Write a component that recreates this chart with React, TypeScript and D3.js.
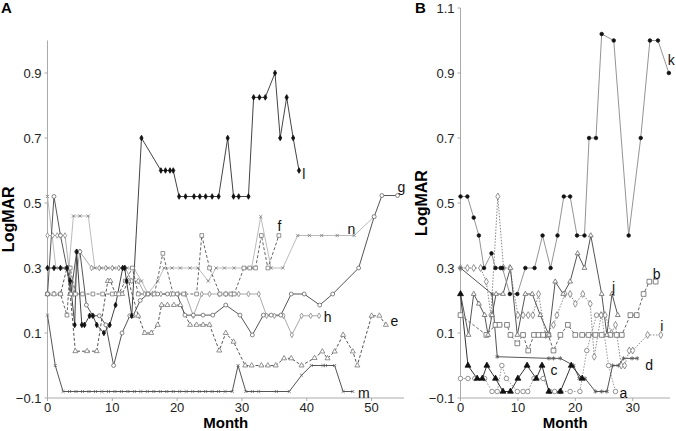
import React from "react";
import * as d3 from "d3";

type P = [number, number];

// ---------- Panel A data (month, LogMAR) ----------
const aL: P[] = [[0,0.3],[1,0.3],[2,0.3],[3,0.3],[3.5,0.26],[4.2,0.125],[4.5,0.35],[5.3,0.125],[5.7,0.125],[6.5,0.153],[7,0.153],[7.6,0.125],[8.7,0.1],[9.6,0.125],[10.5,0.186],[11.6,0.3],[11.9,0.3],[12.2,0.26],[13,0.153],[14.5,0.7],[17.5,0.6],[18.2,0.6],[18.9,0.6],[19.4,0.6],[20.3,0.52],[21.3,0.52],[22.6,0.52],[23.5,0.52],[24.4,0.52],[25.4,0.52],[26.4,0.52],[27.8,0.7],[28.7,0.52],[29.5,0.52],[31,0.52],[31.8,0.825],[32.7,0.825],[33.6,0.825],[35.1,0.9],[35.9,0.7],[36.9,0.825],[37.9,0.7],[38.8,0.6]];
const aG: P[] = [[0,0.22],[1,0.52],[2,0.4],[3,0.3],[3.6,0.22],[4.5,0.35],[5,0.35],[6,0.186],[7,0.153],[8,0.153],[9,0.125],[10.2,0.0],[11.5,0.1],[12.7,0.153],[13.2,0.153],[14.3,0.2],[15.5,0.22],[17,0.22],[18.5,0.22],[20,0.22],[21.2,0.155],[22.5,0.155],[24,0.155],[25.5,0.155],[27.5,0.186],[29.7,0.155],[31.6,0.094],[33.3,0.155],[34.5,0.155],[36,0.155],[37.6,0.22],[39.6,0.22],[42,0.186],[44,0.22],[48,0.3],[50.4,0.458],[51.6,0.523],[54,0.523]];
const aF: P[] = [[0,0.22],[1,0.22],[2,0.22],[3,0.155],[3.5,0.3],[4.3,0.22],[5.4,0.22],[7,0.22],[8.5,0.22],[10,0.22],[11,0.22],[12,0.26],[13.1,0.3],[14,0.22],[15.5,0.22],[16.5,0.22],[17.8,0.345],[19.4,0.22],[21,0.22],[23,0.22],[23.8,0.4],[25,0.3],[26.6,0.22],[27.5,0.22],[28.3,0.22],[28.8,0.22],[30.3,0.3],[31.2,0.3],[32.1,0.3],[33,0.4],[34,0.3],[35.7,0.4]];
const aN: P[] = [[0,0.52],[1.3,0.3],[2.5,0.3],[3.3,0.3],[4,0.46],[5,0.46],[6.3,0.46],[7.3,0.3],[8.3,0.3],[9.3,0.3],[10.3,0.3],[11.3,0.3],[12.3,0.3],[13.3,0.3],[14.5,0.26],[15.5,0.22],[17,0.26],[18,0.3],[19.2,0.3],[20.5,0.3],[22,0.3],[23.2,0.3],[24.8,0.26],[26,0.3],[27.3,0.3],[28.8,0.3],[30.4,0.3],[31.5,0.3],[32.9,0.458],[34.5,0.3],[36.3,0.3],[38.6,0.4],[40.4,0.4],[42.3,0.4],[44.7,0.4],[47.3,0.4],[50.4,0.458]];
const aH: P[] = [[0,0.4],[0.8,0.4],[1.5,0.4],[2,0.4],[2.7,0.4],[3.3,0.3],[4,0.22],[5,0.35],[6.8,0.3],[8,0.3],[9,0.3],[10,0.3],[11,0.3],[12,0.3],[13,0.26],[14,0.26],[15,0.22],[16.2,0.22],[17.5,0.22],[19,0.22],[20.2,0.22],[21.3,0.22],[22.5,0.153],[23.8,0.22],[25,0.22],[26.5,0.22],[27.5,0.22],[28.5,0.22],[29.5,0.22],[31,0.22],[32.6,0.22],[33.8,0.153],[35,0.153],[36.4,0.153],[37.7,0.094],[39.2,0.153],[40.6,0.153],[41.9,0.153]];
const aE: P[] = [[0,0.22],[1,0.22],[2,0.22],[3,0.3],[3.5,0.22],[4.3,0.044],[6.1,0.044],[7.6,0.044],[9.3,0.26],[9.7,0.26],[10.5,0.22],[11.5,0.22],[12.5,0.26],[14,0.153],[15,0.1],[16,0.1],[17,0.125],[17.6,0.186],[18.5,0.186],[19.5,0.186],[20.5,0.186],[22,0.125],[23,0.125],[24,0.125],[25,0.125],[26.5,0.046],[27.5,0.1],[28.7,0.073],[30.5,0.0],[31.5,0.0],[33,0.0],[34,0.0],[35.2,0.0],[36.5,0.022],[37.6,0.022],[39.2,0.0],[41.2,0.023],[42.4,0.043],[43.2,0.022],[44.3,0.043],[45.6,0.094],[47.1,0.043],[47.8,0.0],[50,0.153],[51.2,0.153],[52.2,0.125]];
const aM: P[] = [[0,0.155],[1.2,0.0],[2.4,-0.08],[3.4,-0.08],[4.4,-0.08],[5.4,-0.08],[6.4,-0.08],[7.4,-0.08],[8.4,-0.08],[9.4,-0.08],[10.4,-0.08],[11.4,-0.08],[12.4,-0.08],[13.4,-0.08],[14.4,-0.08],[15.4,-0.08],[16.4,-0.08],[17.4,-0.08],[18.4,-0.08],[19.4,-0.08],[20.4,-0.08],[21.4,-0.08],[22.4,-0.08],[23.4,-0.08],[24.4,-0.08],[25.4,-0.08],[26.4,-0.08],[27.4,-0.08],[28.5,-0.08],[29.4,0.0],[30.6,-0.08],[31.6,-0.08],[32.6,-0.08],[35.3,-0.08],[37.3,-0.08],[39.2,-0.03],[40.7,0.0],[42.5,0.0],[42.9,0.0],[44.3,0.0],[45.6,-0.08],[47.1,-0.08]];

// ---------- Panel B data ----------
const bK: P[] = [[0,0.52],[1.2,0.52],[2.3,0.455],[3.2,0.4],[4.1,0.3],[5.4,0.345],[6.1,0.3],[7,0.3],[7.3,0.3],[8.6,0.22],[9.9,0.22],[11.3,0.3],[12.9,0.3],[14.3,0.4],[15.7,0.3],[16.9,0.4],[18,0.52],[19.1,0.52],[20.3,0.4],[21.6,0.4],[22.4,0.7],[23.6,0.7],[24.6,1.02],[26.7,1.0],[29.3,0.4],[31.4,0.7],[33,1.0],[34.4,1.0],[36.3,0.9]];
const bB: P[] = [[0,0.155],[4.5,0.094],[6.1,0.125],[6.8,0.125],[8.1,0.125],[8.7,0.094],[9.9,0.068],[10.9,0.094],[11.8,0.046],[12.8,0.094],[13.6,0.094],[14.4,0.094],[15.3,0.094],[16.2,0.046],[17.4,0.094],[18.7,0.125],[20,0.094],[21.2,0.094],[22.3,0.094],[23.5,0.094],[24.6,0.094],[26.1,0.094],[27.2,0.094],[28.1,0.094],[29.6,0.155],[30.7,0.155],[31.9,0.22],[32.9,0.258],[34,0.258]];
const bI: P[] = [[0,0.3],[1.2,0.3],[2.3,0.3],[3.5,0.3],[4.5,0.258],[5.3,0.155],[6.5,0.52],[7.5,0.3],[8.6,0.3],[10,0.155],[10.9,0.155],[11.8,0.155],[12.6,0.155],[13.6,0.22],[14.8,0.094],[16.2,0.125],[16.8,0.155],[18.2,0.22],[19.1,0.22],[20,0.19],[21.3,0.22],[22.6,0.19],[23.3,0.027],[24.5,0.155],[25.2,0.155],[26.3,0.1],[27,0.125],[28,0.0],[28.6,0.0],[29.4,0.046],[30,0.046],[32.6,0.094],[34.9,0.094]];
const bJ: P[] = [[0,0.22],[1.4,0.094],[2.3,0.22],[3.2,0.19],[4.2,0.155],[4.8,0.094],[5.5,0.155],[6.2,0.22],[7.4,0.22],[8.7,0.3],[9.9,0.094],[11.3,0.22],[12.5,0.22],[13.9,0.155],[15.4,0.094],[16.5,0.258],[17.9,0.22],[19.1,0.258],[20.4,0.345],[21.6,0.3],[22.7,0.4],[24.6,0.22],[25.5,0.094],[26.4,0.22],[27.4,0.155]];
const bD: P[] = [[0,0.3],[5.5,0.22],[6.4,0.027],[15.4,0.022],[16.2,0.022],[17.4,0.022],[19.7,0.0],[20.7,-0.04],[21.7,-0.04],[23.5,-0.08],[24.6,-0.08],[25.5,-0.08],[26.5,0.0],[27.5,0.0],[28.4,0.022],[29.9,0.022],[30.8,0.022]];
const bC: P[] = [[0,0.22],[1.3,0.0],[2.9,-0.04],[3.8,-0.04],[4.6,0.0],[6.1,-0.04],[7.4,-0.08],[8.7,-0.08],[10,-0.04],[11.6,0.0],[13.2,-0.04],[14.2,0.0],[15.4,-0.08],[17.4,-0.08],[19.3,0.0],[21.2,-0.04]];
const bA: P[] = [[0,-0.04],[1.3,-0.04],[2.5,-0.04],[4.2,-0.04],[5.5,-0.08],[6.4,-0.08],[7.2,0.0],[8,-0.04],[9.9,-0.08],[10.9,-0.08],[11.7,-0.08],[12.8,-0.04],[14.4,-0.04],[15.6,-0.08],[16.4,-0.08],[17.4,-0.08],[19.1,-0.08],[20.8,-0.08],[22,0.046],[23.7,0.155],[24.6,0.155],[25.8,0.0],[27,-0.08]];

// ---------- axes ----------
const yTicksA = [-0.1, 0.1, 0.3, 0.5, 0.7, 0.9];
const yTicksB = [-0.1, 0.1, 0.3, 0.5, 0.7, 0.9, 1.1];
const xTicksA = [0, 10, 20, 30, 40, 50];
const xTicksB = [0, 10, 20, 30];

type Style = {
  data: P[];
  label: string;
  lx: number; // label anchor in data units
  ly: number;
  symbol: d3.SymbolType;
  size: number;
  fill: string;
  mstroke: string;
  line: string;
  dash?: string;
  lw?: number;
};

const seriesA: Style[] = [
  { data: aE, label: "e", lx: 52.9, ly: 0.137, symbol: d3.symbolTriangle, size: 11, fill: "#fff", mstroke: "#777", line: "#555", dash: "3,2" },
  { data: aH, label: "h", lx: 42.6, ly: 0.15, symbol: d3.symbolDiamond, size: 9, fill: "#fff", mstroke: "#888", line: "#aaa" },
  { data: aN, label: "n", lx: 46.3, ly: 0.42, symbol: d3.symbolTimes, size: 8, fill: "none", mstroke: "#777", line: "#bbb" },
  { data: aF, label: "f", lx: 35.5, ly: 0.43, symbol: d3.symbolSquare, size: 14, fill: "#fff", mstroke: "#777", line: "#666", dash: "3,2" },
  { data: aG, label: "g", lx: 54.0, ly: 0.55, symbol: d3.symbolCircle, size: 12, fill: "#fff", mstroke: "#666", line: "#555" },
  { data: aM, label: "m", lx: 47.9, ly: -0.085, symbol: d3.symbolTimes, size: 7, fill: "none", mstroke: "#666", line: "#555" },
  { data: aL, label: "l", lx: 39.3, ly: 0.59, symbol: d3.symbolDiamond, size: 9, fill: "#111", mstroke: "#111", line: "#444" },
];

const seriesB: Style[] = [
  { data: bA, label: "a", lx: 27.7, ly: -0.085, symbol: d3.symbolCircle, size: 16, fill: "#fff", mstroke: "#777", line: "#999", dash: "1.5,1.5" },
  { data: bI, label: "i", lx: 34.8, ly: 0.12, symbol: d3.symbolDiamond, size: 14, fill: "#fff", mstroke: "#777", line: "#888", dash: "1.5,1.5" },
  { data: bB, label: "b", lx: 33.5, ly: 0.28, symbol: d3.symbolSquare, size: 22, fill: "#fff", mstroke: "#666", line: "#666", dash: "3,2" },
  { data: bJ, label: "j", lx: 26.4, ly: 0.24, symbol: d3.symbolTriangle, size: 10, fill: "#fff", mstroke: "#666", line: "#555" },
  { data: bD, label: "d", lx: 32.2, ly: 0.0, symbol: d3.symbolAsterisk, size: 12, fill: "none", mstroke: "#555", line: "#555" },
  { data: bC, label: "c", lx: 15.7, ly: -0.015, symbol: d3.symbolTriangle, size: 15, fill: "#111", mstroke: "#111", line: "#333" },
  { data: bK, label: "k", lx: 36.1, ly: 0.94, symbol: d3.symbolCircle, size: 10, fill: "#111", mstroke: "#111", line: "#888", lw: 0.9 },
];

const FONT = "'Liberation Sans', Arial, sans-serif";
const fmtY = (v: number) => (v < 0 ? "\u2212" + Math.abs(v).toFixed(1) : v.toFixed(1));
const fmtX = (v: number) => String(v);

function Panel(props: {
  series: Style[];
  xDom: [number, number];
  xRange: [number, number];
  yDom: [number, number];
  yRange: [number, number];
  xTicks: number[];
  yTicks: number[];
  letter: string;
  letterX: number;
  ylabX: number;
}) {
  const x = d3.scaleLinear().domain(props.xDom).range(props.xRange);
  const y = d3.scaleLinear().domain(props.yDom).range(props.yRange);
  const line = d3.line<P>().x((d) => x(d[0])).y((d) => y(d[1]));
  const [x0, x1] = props.xRange;
  const [yb, yt] = props.yRange;
  return (
    <g>
      <text x={props.letterX} y={13} fontFamily={FONT} fontWeight="bold" fontSize={15}>{props.letter}</text>
      <line x1={x0} x2={x0} y1={yt} y2={yb} stroke="#aaa" strokeWidth={1} />
      <line x1={x0} x2={x1} y1={yb} y2={yb} stroke="#aaa" strokeWidth={1} />
      {props.yTicks.map((t) => (
        <g key={"y" + t}>
          <line x1={x0 - 3} x2={x0} y1={y(t)} y2={y(t)} stroke="#aaa" />
          <text x={x0 - 6} y={y(t)} dy="0.35em" textAnchor="end" fontFamily={FONT} fontSize={13} fill="#222">{fmtY(t)}</text>
        </g>
      ))}
      {props.xTicks.map((t) => (
        <g key={"x" + t}>
          <line x1={x(t)} x2={x(t)} y1={yb} y2={yb + 3} stroke="#aaa" />
          <text x={x(t)} y={yb + 14} textAnchor="middle" fontFamily={FONT} fontSize={13} fill="#222">{fmtX(t)}</text>
        </g>
      ))}
      <text x={(x0 + x1) / 2} y={428} textAnchor="middle" fontFamily={FONT} fontWeight="bold" fontSize={15}>Month</text>
      <text transform={`translate(${props.ylabX},${(yb + yt) / 2}) rotate(-90)`} textAnchor="middle" fontFamily={FONT} fontWeight="bold" fontSize={16}>LogMAR</text>
      {props.series.map((s) => (
        <path key={"l" + s.label} d={line(s.data) || ""} fill="none" stroke={s.line} strokeWidth={s.lw ?? 1} strokeDasharray={s.dash} />
      ))}
      {props.series.map((s) => {
        const sym = d3.symbol().type(s.symbol).size(s.size)() || "";
        return (
          <g key={"m" + s.label}>
            {s.data.map((d, i) => (
              <path key={i} d={sym} transform={`translate(${x(d[0])},${y(d[1])})`} fill={s.fill} stroke={s.mstroke} strokeWidth={0.8} />
            ))}
          </g>
        );
      })}
      {props.series.map((s) => (
        <text key={"t" + s.label} x={x(s.lx)} y={y(s.ly)} dy="0.35em" fontFamily={FONT} fontSize={14} fill="#111">{s.label}</text>
      ))}
    </g>
  );
}

export default function App() {
  return (
    <div style={{ position: "absolute", left: 0, top: 0, width: 676, height: 431, background: "#fff" }}>
      <svg width={676} height={431} viewBox="0 0 676 431">
        <rect width={676} height={431} fill="#fff" />
        <Panel series={seriesA} xDom={[0, 55]} xRange={[47.5, 404]} yDom={[-0.1, 1.0]} yRange={[398, 40.5]} xTicks={xTicksA} yTicks={yTicksA} letter="A" letterX={1} ylabX={14} />
        <Panel series={seriesB} xDom={[0, 36.5]} xRange={[460.5, 670]} yDom={[-0.1, 1.1]} yRange={[398, 8]} xTicks={xTicksB} yTicks={yTicksB} letter="B" letterX={415} ylabX={427} />
      </svg>
    </div>
  );
}
